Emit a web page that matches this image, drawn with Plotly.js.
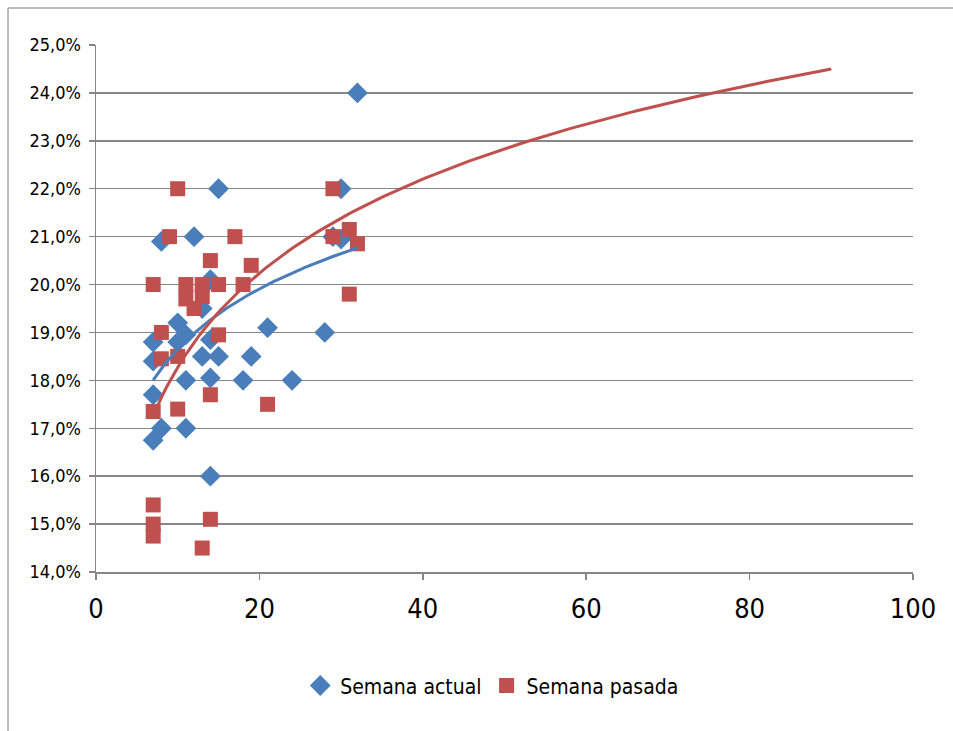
<!DOCTYPE html>
<html>
<head>
<meta charset="utf-8">
<script src="https://cdn.plot.ly/plotly-3.0.1.min.js"></script>
<style>html,body{margin:0;padding:0;background:#fff;}#chart{width:953px;height:731px;}</style>
</head>
<body>
<div id="chart"></div>
<script>
// Semana actual (blue diamonds)
const actualX = [32, 15, 30, 8, 12, 29, 30, 14, 13, 10, 11, 10, 7, 7, 13, 15, 14, 14, 11, 7, 19, 21, 18, 24, 28, 7, 8, 11, 14];
const actualY = [24.0, 22.0, 22.0, 20.9, 21.0, 21.0, 20.95, 20.1, 19.5, 19.2, 18.95, 18.8, 18.8, 18.4, 18.5, 18.5, 18.85, 18.05, 18.0, 17.7, 18.5, 19.1, 18.0, 18.0, 19.0, 16.75, 17.0, 17.0, 16.0];
// Semana pasada (red squares)
const pasadaX = [10, 29, 9, 17, 29, 31, 32, 31, 19, 18, 14, 7, 11, 11, 13, 15, 12, 13, 8, 8, 10, 15, 14, 10, 7, 21, 7, 7, 7, 14, 13];
const pasadaY = [22.0, 22.0, 21.0, 21.0, 21.0, 21.15, 20.85, 19.8, 20.4, 20.0, 20.5, 20.0, 20.0, 19.7, 20.0, 20.0, 19.5, 19.75, 19.0, 18.45, 18.5, 18.95, 17.7, 17.4, 17.35, 17.5, 15.4, 15.0, 14.75, 15.1, 14.5];
const seriesNames = ["Semana actual", "Semana pasada"];
const xTicks = [0, 20, 40, 60, 80, 100];
const yTicks = [14, 15, 16, 17, 18, 19, 20, 21, 22, 23, 24, 25];
// Logarithmic trendlines y = a + b*ln(x), coefficients
const actualTrend = {a: 14.47, b: 1.816, xEnd: 32};
const pasadaTrend = {a: 11.75, b: 2.833, xEnd: 90};

function trendPoints(xs, t) {
  const x0 = Math.min(...xs);
  const px = [], py = [];
  const steps = 150;
  for (let i = 0; i <= steps; i++) {
    const x = x0 + (t.xEnd - x0) * i / steps;
    px.push(x); py.push(t.a + t.b * Math.log(x));
  }
  return {px, py};
}
const tA = trendPoints(actualX, actualTrend);
const tP = trendPoints(pasadaX, pasadaTrend);

const blue = '#4a7ebb', red = '#c0504d';
const font = '"DejaVu Sans Condensed", "Liberation Sans Narrow", "Open Sans", sans-serif';

const data = [
  {x: actualX, y: actualY, type: 'scatter', mode: 'markers', name: seriesNames[0],
   marker: {symbol: 'diamond', size: 16, color: blue}},
  {x: pasadaX, y: pasadaY, type: 'scatter', mode: 'markers', name: seriesNames[1],
   marker: {symbol: 'square', size: 15, color: red}},
  {x: tA.px, y: tA.py, type: 'scatter', mode: 'lines', showlegend: false, hoverinfo: 'skip',
   line: {color: blue, width: 3}},
  {x: tP.px, y: tP.py, type: 'scatter', mode: 'lines', showlegend: false, hoverinfo: 'skip',
   line: {color: red, width: 3}}
];

const layout = {
  width: 953, height: 731,
  margin: {l: 96, r: 40, t: 45, b: 159},
  paper_bgcolor: '#fff', plot_bgcolor: '#fff',
  showlegend: true,
  legend: {orientation: 'h', x: 0.485, xanchor: 'center', y: -0.216, yanchor: 'middle',
    font: {family: font, size: 21, color: '#000'}, itemwidth: 30},
  xaxis: {range: [0, 100], tickvals: xTicks, ticktext: xTicks.map(String),
    showgrid: false, zeroline: false, showline: true, linecolor: '#868686', linewidth: 1.5,
    ticks: 'outside', ticklen: 6, tickcolor: '#868686', tickwidth: 1.5,
    tickfont: {family: font, size: 27, color: '#000'}, ticklabelstandoff: 6},
  yaxis: {range: [14, 25], tickvals: yTicks, ticktext: yTicks.map(v => v.toFixed(1).replace('.', ',') + '%'),
    showgrid: true, gridcolor: '#868686', gridwidth: 1.5, zeroline: false,
    showline: true, linecolor: '#868686', linewidth: 1.5,
    ticks: 'outside', ticklen: 6, tickcolor: '#868686', tickwidth: 1.5,
    tickfont: {family: font, size: 18, color: '#000'}, ticklabelstandoff: 4},
  shapes: [
    {type: 'line', xref: 'paper', yref: 'paper', x0: -0.1077, x1: -0.1077, y0: 1.07, y1: -0.4,
     line: {color: '#a6a6a6', width: 1.5}},
    {type: 'line', xref: 'paper', yref: 'paper', x0: -0.1077, x1: 1.1, y0: 1.07, y1: 1.07,
     line: {color: '#a6a6a6', width: 1.5}}
  ]
};
Plotly.newPlot('chart', data, layout, {displayModeBar: false, staticPlot: true});
</script>
</body>
</html>
